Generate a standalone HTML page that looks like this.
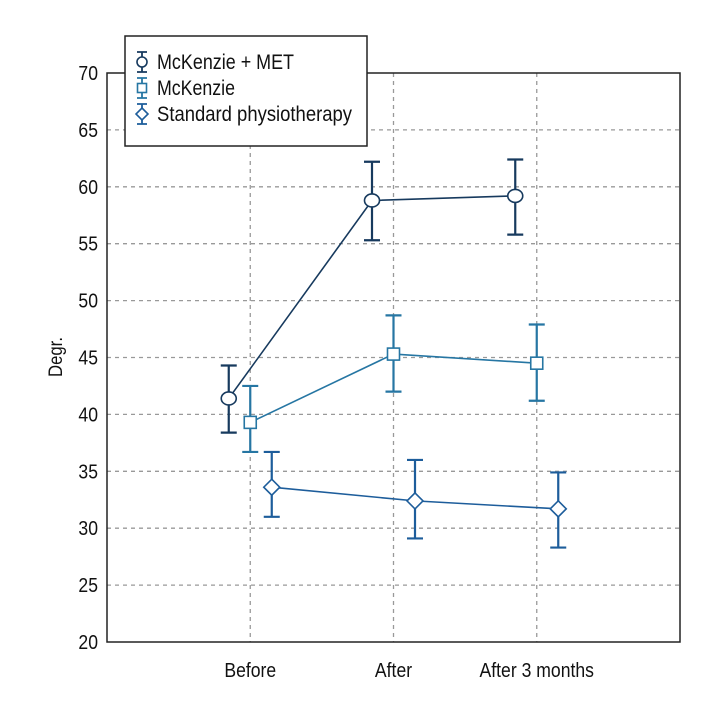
<!DOCTYPE html>
<html><head><meta charset="utf-8"><style>
body{margin:0;background:#fff}
text{font-family:"Liberation Sans Narrow","Liberation Sans",sans-serif;fill:#111}
</style></head><body>
<svg id="chart" width="720" height="720" xmlns="http://www.w3.org/2000/svg"></svg>
<script>
const categories=["Before","After","After 3 months"];
const yTicks=[20,25,30,35,40,45,50,55,60,65,70];
const seriesNames=["McKenzie + MET","McKenzie","Standard physiotherapy"];
const metMean=[41.4,58.8,59.2], metLow=[38.4,55.3,55.8], metHigh=[44.3,62.2,62.4];
const mckMean=[39.3,45.3,44.5], mckLow=[36.7,42.0,41.2], mckHigh=[42.5,48.7,47.9];
const stdMean=[33.6,32.4,31.7], stdLow=[31.0,29.1,28.3], stdHigh=[36.7,36.0,34.9];

const svg=document.getElementById('chart');
const NS="http://www.w3.org/2000/svg";
const L=107,R=680,T=73,B=642;
const xs=i=>L+(R-L)*(i+1)/4;
const ys=v=>B-(v-20)/50*(B-T);
function mk(tag,attrs,parent){const e=document.createElementNS(NS,tag);for(const k in attrs)e.setAttribute(k,attrs[k]);(parent||svg).appendChild(e);return e;}
function txt(x,y,s,anchor,size,parent){
  const t=mk('text',{x:0,y:0,'text-anchor':anchor,'font-size':size,transform:`translate(${x},${y}) scale(0.88,1)`},parent);
  t.textContent=s;return t;
}

yTicks.forEach(t=>{
  if(t>20&&t<70){const g=mk('line',{x1:L,x2:R,y1:ys(t),y2:ys(t),stroke:'#999','stroke-width':1.3,'stroke-dasharray':'4,4'});
  
  }
  const tx=txt(98,ys(t)+7,String(t),'end',20);
  
  
});
categories.forEach((c,i)=>{
  const g=mk('line',{x1:xs(i),x2:xs(i),y1:T,y2:B,stroke:'#999','stroke-width':1.3,'stroke-dasharray':'4,4'});
  
  
  const tx=txt(xs(i),677,c,'middle',20);
  
  
});
const frame=mk('rect',{x:L,y:T,width:R-L,height:B-T,fill:'none',stroke:'#222','stroke-width':1.5});


const yt=mk('text',{x:0,y:0,transform:'translate(62,357) rotate(-90) scale(0.88,1)','text-anchor':'middle','font-size':19});yt.textContent='Degr.';



function marker(kind,x,y,color,g){
  if(kind==='circle')return mk('ellipse',{cx:x,cy:y,rx:7.5,ry:6.5,fill:'#fff',stroke:color,'stroke-width':1.6},g);
  if(kind==='square')return mk('rect',{x:x-6,y:y-6,width:12,height:12,fill:'#fff',stroke:color,'stroke-width':1.6},g);
  return mk('polygon',{points:`${x},${y-8} ${x+8},${y} ${x},${y+8} ${x-8},${y}`,fill:'#fff',stroke:color,'stroke-width':1.6},g);
}
const defs=[[metMean,metLow,metHigh,'#173a5e','circle',-21.5,'series-mckenzie-met'],
            [mckMean,mckLow,mckHigh,'#2676a3','square',0,'series-mckenzie'],
            [stdMean,stdLow,stdHigh,'#1d5d9b','diamond',21.5,'series-standard']];
defs.forEach(([m,lo,hi,col,kind,off,name])=>{
  const g=mk('g',{});
  
  
  const pl=mk('polyline',{points:m.map((v,i)=>`${xs(i)+off},${ys(v)}`).join(' '),fill:'none',stroke:col,'stroke-width':1.6},g);
  
  
  m.forEach((v,i)=>{
    const x=xs(i)+off;
    const e=mk('path',{d:`M${x},${ys(lo[i])}V${ys(hi[i])}M${x-8},${ys(lo[i])}H${x+8}M${x-8},${ys(hi[i])}H${x+8}`,stroke:col,'stroke-width':2.2,fill:'none'},g);
    
    
    const p=marker(kind,x,ys(v),col,g);
    
    
  });
});
const lg=mk('g',{});


mk('rect',{x:125,y:36,width:242,height:110,fill:'#fff',stroke:'#222','stroke-width':1.5},lg);
defs.forEach((d,i)=>{
  const y=62+i*26, x=142, col=d[3];
  const en=mk('g',{},lg);
  
  
  mk('path',{d:`M${x},${y-10}V${y+10}M${x-5},${y-10}H${x+5}M${x-5},${y+10}H${x+5}`,stroke:col,'stroke-width':1.8,fill:'none'},en);
  const k=d[4];
  if(k==='circle')mk('ellipse',{cx:x,cy:y,rx:5,ry:5,fill:'#fff',stroke:col,'stroke-width':1.6},en);
  else if(k==='square')mk('rect',{x:x-4.5,y:y-4.5,width:9,height:9,fill:'#fff',stroke:col,'stroke-width':1.6},en);
  else mk('polygon',{points:`${x},${y-6} ${x+6},${y} ${x},${y+6} ${x-6},${y}`,fill:'#fff',stroke:col,'stroke-width':1.6},en);
  const t=mk('text',{x:157,y:y+7,'font-size':21},en);t.textContent=seriesNames[i];
  t.setAttribute('textLength',[137,78,195][i]);
  t.setAttribute('lengthAdjust','spacingAndGlyphs');
});
</script>
</body></html>
